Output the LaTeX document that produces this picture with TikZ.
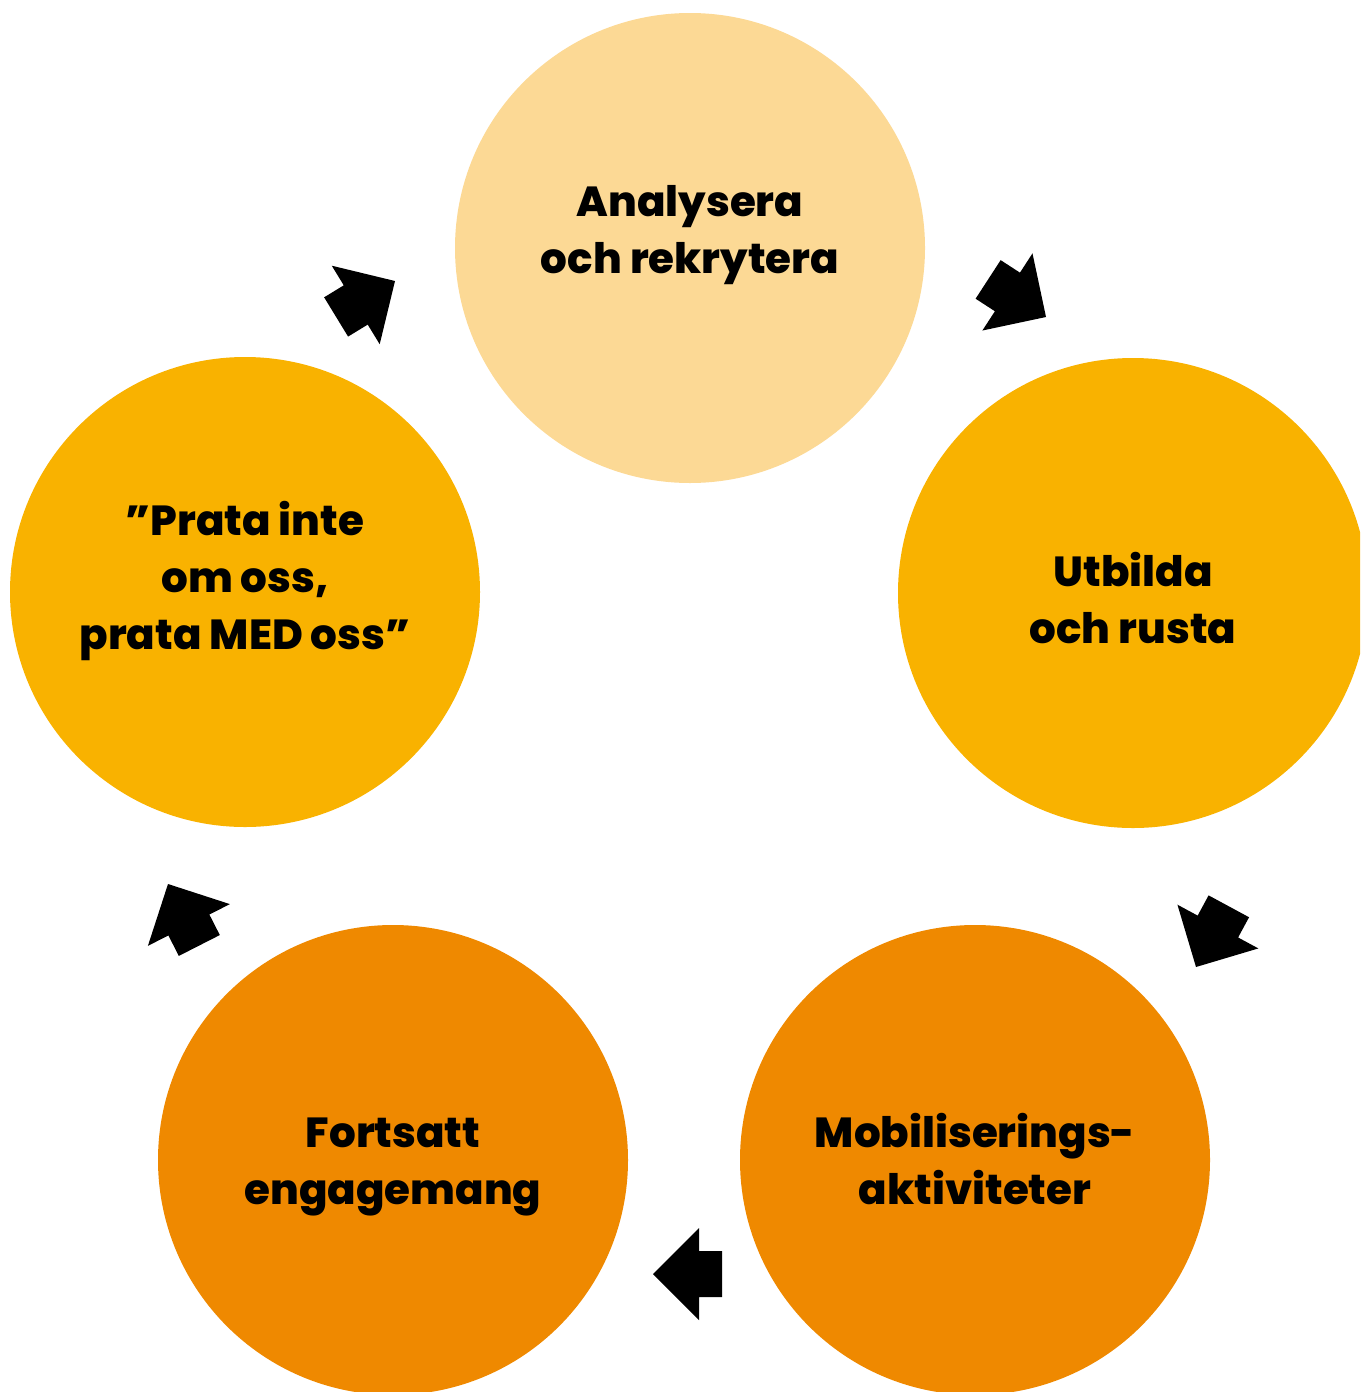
\documentclass[tikz,border=0pt]{standalone}
\usepackage{fontspec}
\setmainfont{Poppins}[BoldFont={Poppins ExtraBold}]
\definecolor{cLight}{HTML}{FCD995}
\definecolor{cMid}{HTML}{F9B200}
\definecolor{cDark}{HTML}{EF8900}
\begin{document}
\begin{tikzpicture}[x=0.5pt,y=-0.5pt,
  bubble/.style={circle,minimum size=235pt,inner sep=0pt,draw=none},
  lbl/.style={font=\bfseries\fontsize{21}{28.5}\selectfont,align=center,text=black,inner sep=0pt},
  blockarrow/.style={fill=black}]
\useasboundingbox (0,0) rectangle (1360,1392);
\clip (0,0) rectangle (1360,1392);
\node[bubble,fill=cLight] (c1) at (690,248) {};
\node[bubble,fill=cMid] (c2) at (1133,593) {};
\node[bubble,fill=cDark] (c3) at (975,1160) {};
\node[bubble,fill=cDark] (c4) at (393,1160) {};
\node[bubble,fill=cMid] (c5) at (245,592) {};
\node[lbl] (t1) at (690,235) {Analysera\\och rekrytera};
\node[lbl] (t2) at (1133,598) {Utbilda\\och rusta};
\node[lbl] (t3) at (975,1159) {Mobiliserings-\\aktiviteter};
\node[lbl] (t4) at (393,1167) {Fortsatt\\engagemang};
\node[lbl] (t5) at (245,581) {”Prata inte\\om oss,\\prata MED oss”};
\coordinate (a1) at (1046,317);
\coordinate (a2) at (1196,967);
\coordinate (a3) at (653,1274);
\coordinate (a4) at (168,884);
\coordinate (a5) at (395,281);
\foreach \p/\ang in {a1/-33,a2/-118.4,a3/180,a4/117,a5/31.4}{
  \begin{scope}[shift={(\p)},rotate=\ang]
    \fill[blockarrow] (0,0) -- (-46,-46) -- (-46,-23) -- (-69,-23) -- (-69,23) -- (-46,23) -- (-46,46) -- cycle;
  \end{scope}
}
\end{tikzpicture}
\end{document}
